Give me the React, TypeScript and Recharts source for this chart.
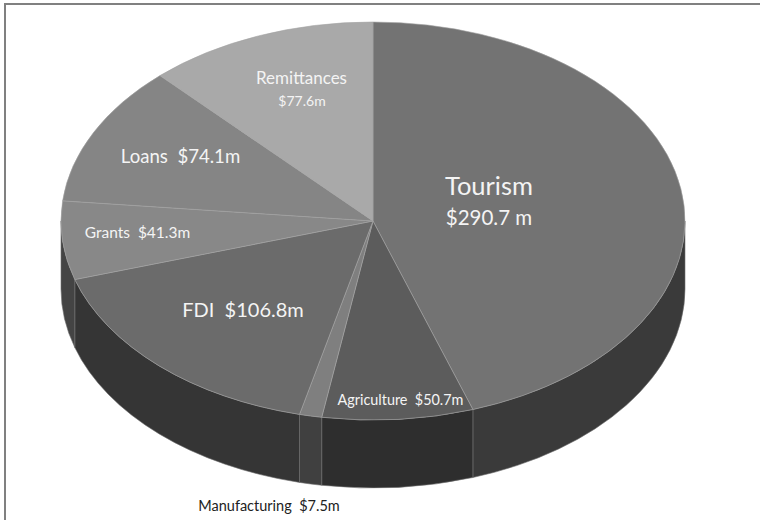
import React from 'react';
import { PieChart, Pie, Cell } from 'recharts';

const sectors = ['Tourism', 'Agriculture', 'Manufacturing', 'FDI', 'Grants', 'Loans', 'Remittances'];
const amounts = [290.7, 50.7, 7.5, 106.8, 41.3, 74.1, 77.6];
const topColors = ['#737373', '#5c5c5c', '#7f7f7f', '#6b6b6b', '#888888', '#858585', '#a9a9a9'];
const wallColors = ['#3a3a3a', '#2e2e2e', '#404040', '#353535', '#444444', '#444444', '#555555'];

// label text, line by line, with position and font size
const labelLines = [
  [{ t: 'Tourism', x: 489, y: 195, s: 25.5 }, { t: '$290.7 m', x: 489, y: 225, s: 20.5 }],
  [{ t: 'Agriculture  $50.7m', x: 400.5, y: 405, s: 14.4 }],
  [{ t: 'Manufacturing  $7.5m', x: 269, y: 511, s: 14.5, dark: true }],
  [{ t: 'FDI  $106.8m', x: 243, y: 317, s: 20 }],
  [{ t: 'Grants  $41.3m', x: 137.5, y: 238, s: 15.5 }],
  [{ t: 'Loans  $74.1m', x: 180.5, y: 163, s: 18.6 }],
  [{ t: 'Remittances', x: 301.5, y: 84, s: 17 }, { t: '$77.6m', x: 302, y: 106, s: 14 }],
];

const data = sectors.map((name, i) => ({ name, value: amounts[i] }));

const SQUASH = 199 / 312;
const DEPTH = 68;
const RAD = Math.PI / 180;

// recharts angles are math style (counter clockwise from 3 o'clock), y flattened for the tilt
const rim = (cx: number, cy: number, r: number, a: number) => [
  cx + r * Math.cos(a * RAD),
  cy - r * SQUASH * Math.sin(a * RAD),
];

// top face of a slice as an elliptical wedge
const TopSlice = (props: any) => {
  const { cx, cy, outerRadius: r, startAngle, endAngle, fill } = props;
  const [x0, y0] = rim(cx, cy, r, startAngle);
  const [x1, y1] = rim(cx, cy, r, endAngle);
  const large = Math.abs(startAngle - endAngle) > 180 ? 1 : 0;
  const d = `M${cx},${cy} L${x0},${y0} A${r},${r * SQUASH} 0 ${large} 1 ${x1},${y1} Z`;
  return <path d={d} fill={fill} stroke="#a3a3a3" strokeWidth={0.6} />;
};

// front wall: only the part of the arc in the lower half of the ellipse shows
const WallSlice = (props: any) => {
  const { cx, cy, outerRadius: r, startAngle, endAngle, fill } = props;
  const from = Math.min(startAngle, 0);
  const to = Math.max(endAngle, -180);
  if (from <= to) return null;
  const [x0, y0] = rim(cx, cy, r, from);
  const [x1, y1] = rim(cx, cy, r, to);
  const large = from - to > 180 ? 1 : 0;
  const d =
    `M${x0},${y0} A${r},${r * SQUASH} 0 ${large} 1 ${x1},${y1} ` +
    `L${x1},${y1 + DEPTH} A${r},${r * SQUASH} 0 ${large} 0 ${x0},${y0 + DEPTH} Z`;
  return <path d={d} fill={fill} stroke="#6e6e6e" strokeWidth={0.6} />;
};

const renderLabel = ({ index }: any) => (
  <g>
    {labelLines[index].map((l: any) => (
      <text
        key={l.t}
        x={l.x}
        y={l.y}
        textAnchor="middle"
        fontFamily="Lato, sans-serif"
        fontSize={l.s}
        fill={l.dark ? '#222222' : '#f4f4f4'}
        style={{ whiteSpace: 'pre' }}
      >
        {l.t}
      </text>
    ))}
  </g>
);

const App: React.FC = () => (
  <div style={{ position: 'absolute', left: 0, top: 0, width: 760, height: 520, background: '#fff' }}>
    <div style={{ position: 'absolute', left: 4, top: 3, width: 756, height: 517, borderTop: '2px solid #808080', borderLeft: '2px solid #808080', boxSizing: 'border-box' }} />
    <PieChart width={760} height={520} margin={{ top: 0, right: 0, bottom: 0, left: 0 }} style={{ position: 'absolute', left: 0, top: 0 }}>
      <Pie
        data={data}
        dataKey="value"
        cx={373}
        cy={221}
        outerRadius={312}
        startAngle={90}
        endAngle={-270}
        stroke="none"
        shape={WallSlice}
        isAnimationActive={false}
      >
        {wallColors.map((c, i) => <Cell key={i} fill={c} />)}
      </Pie>
      <Pie
        data={data}
        dataKey="value"
        cx={373}
        cy={221}
        outerRadius={312}
        startAngle={90}
        endAngle={-270}
        stroke="none"
        shape={TopSlice}
        label={renderLabel}
        labelLine={false}
        isAnimationActive={false}
      >
        {topColors.map((c, i) => <Cell key={i} fill={c} />)}
      </Pie>
    </PieChart>
  </div>
);

export default App;
